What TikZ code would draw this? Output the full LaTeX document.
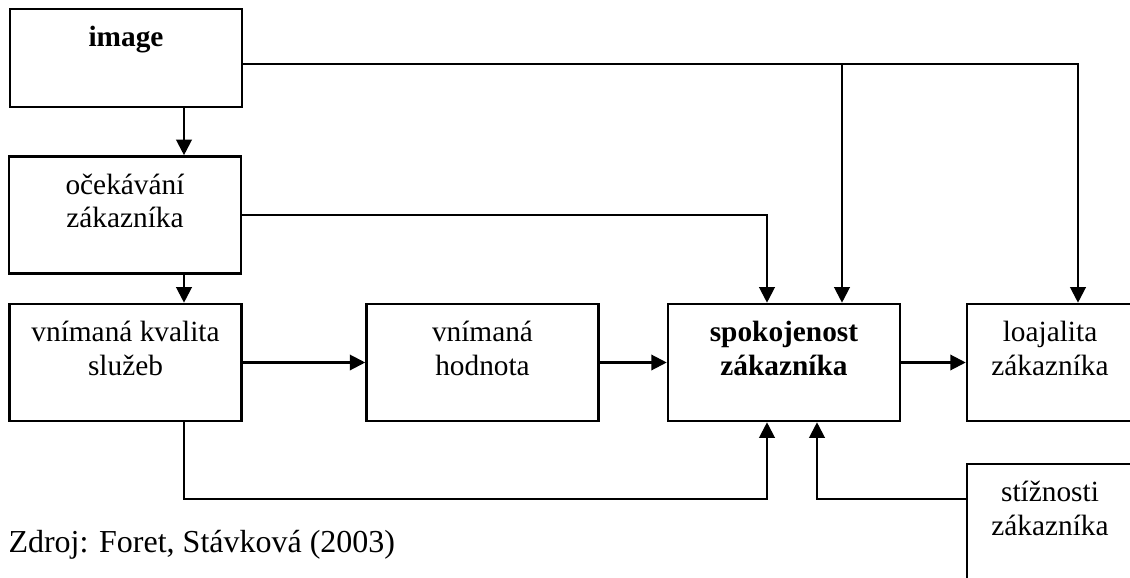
\documentclass[tikz,border=0pt]{standalone}
\usepackage{fontspec}
\setmainfont{Liberation Serif}
\usetikzlibrary{arrows.meta}

\tikzset{
  blok/.style={draw, line width=0.95pt, inner sep=0pt, minimum width=87pt, minimum height=43.9pt},
  popis/.style={anchor=north, align=center, inner sep=0pt, yshift=-6.75pt, font=\fontsize{11}{12.65}\selectfont},
  sipka/.style={line width=0.8pt, -{Triangle[length=5.8pt, width=5.8pt]}},
}

\begin{document}
\begin{tikzpicture}[x=0.375pt, y=-0.375pt]
  \useasboundingbox (0,0) rectangle (1130,578);
  \clip (0,0) rectangle (1130,578);

  % Bloky
  \node[blok, minimum height=36.75pt, label={[popis]north:\textbf{image}}] (img) at (126,58) {};
  \node[blok, label={[popis]north:{očekávání\\zákazníka}}] (ocek) at (125,215) {};
  \node[blok, label={[popis]north:{vnímaná kvalita\\služeb}}] (kval) at (125.5,362.5) {};
  \node[blok, label={[popis]north:{vnímaná\\hodnota}}] (hodn) at (482.5,362.5) {};
  \node[blok, label={[popis]north:{\textbf{spokojenost}\\\textbf{zákazníka}}}] (spok) at (784,362.5) {};
  \node[blok, minimum width=62.25pt, label={[popis]north:{loajalita\\zákazníka}}] (loaj) at (1050,362.5) {};
  \node[blok, minimum width=62.25pt, label={[popis]north:{stížnosti\\zákazníka}}] (stiz) at (1050,522.5) {};

  % Zdroj
  \node[anchor=base west, inner sep=0pt, font=\fontsize{12}{14}\selectfont] (zdroj) at (8,552) {Zdroj: Foret, Stávková (2003)};

  % Pomocne body pro lomene spoje
  \coordinate (c1) at (184,0);
  \coordinate (c2) at (767,0);
  \coordinate (c3) at (842,64);
  \coordinate (c4) at (817,0);
  \coordinate (c5) at (1078,0);
  \coordinate (r1) at (0,499);

  % Spoje
  \draw[sipka] (c1 |- img.south) -- (c1 |- ocek.north);
  \draw[sipka] (c1 |- ocek.south) -- (c1 |- kval.north);
  \draw[sipka] (kval.east) -- (hodn.west);
  \draw[sipka] (hodn.east) -- (spok.west);
  \draw[sipka] (spok.east) -- (loaj.west);
  \draw[sipka] (ocek.east) -| (c2 |- spok.north);
  \draw[sipka] (img.east |- c3) -| (c5 |- loaj.north);
  \draw[sipka] (c3) -- (c3 |- spok.north);
  \draw[sipka] (c1 |- kval.south) -- (c1 |- r1) -| (c2 |- spok.south);
  \draw[sipka] (stiz.west |- r1) -| (c4 |- spok.south);
\end{tikzpicture}
\end{document}
